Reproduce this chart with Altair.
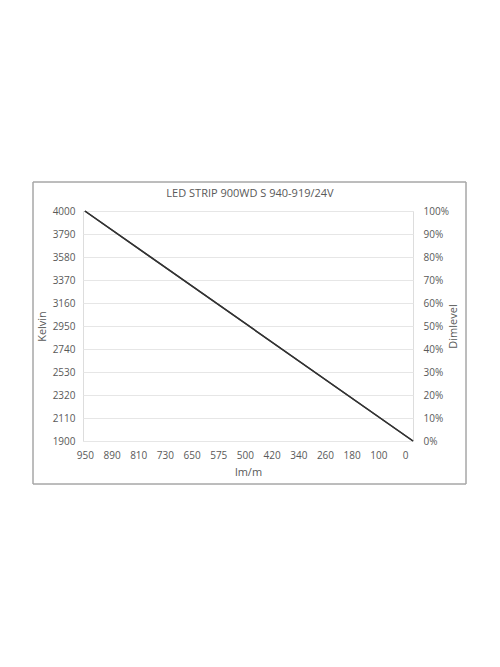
import altair as alt
import pandas as pd

# x-axis category labels (lm/m), evenly spaced
lm_labels = ["950", "890", "810", "730", "650", "575", "500", "420", "340", "260", "180", "100", "0"]
# line endpoints: position along the lm/m axis (label index), Kelvin, Dimlevel
line_pos = [0, 12.3]
line_kelvin = [4000, 1900]
line_dim = [1.0, 0.0]
kelvin_ticks = [1900, 2110, 2320, 2530, 2740, 2950, 3160, 3370, 3580, 3790, 4000]
dim_ticks = [0, 0.1, 0.2, 0.3, 0.4, 0.5, 0.6, 0.7, 0.8, 0.9, 1.0]
title_text = "LED STRIP 900WD S 940-919/24V"

df = pd.DataFrame({"pos": line_pos, "kelvin": line_kelvin, "dim": line_dim})

FONT = "Open Sans"
GREY = "#595959"

label_map = "[" + ",".join(f"'{l}'" for l in lm_labels) + "]"

x_enc = alt.X(
    "pos:Q",
    scale=alt.Scale(domain=[-0.07, 12.3], nice=False, zero=False),
    axis=alt.Axis(
        values=list(range(len(lm_labels))),
        labelExpr=f"{label_map}[round(datum.value)]",
        title="lm/m",
        titleFont=FONT, titleFontSize=11, titleFontWeight="normal", titleColor=GREY,
        titlePadding=6,
        labelFont=FONT, labelFontSize=10, labelColor=GREY, labelPadding=9,
        domain=False, ticks=False, grid=False,
    ),
)

left = alt.Chart(df).mark_line(color="#333333", strokeWidth=1.5).encode(
    x=x_enc,
    y=alt.Y(
        "kelvin:Q",
        scale=alt.Scale(domain=[1900, 4000], nice=False, zero=False),
        axis=alt.Axis(
            values=kelvin_ticks, format="d", title="Kelvin",
            titleFont=FONT, titleFontSize=11, titleFontWeight="normal", titleColor=GREY,
            titlePadding=5,
            labelFont=FONT, labelFontSize=10, labelColor=GREY, labelPadding=8,
            domain=False, ticks=False, grid=True, gridColor="#e6e6e6", gridWidth=1,
        ),
    ),
)

right = alt.Chart(df).mark_line(color="#333333", strokeWidth=1.5).encode(
    x=x_enc,
    y=alt.Y(
        "dim:Q",
        scale=alt.Scale(domain=[0, 1], nice=False),
        axis=alt.Axis(
            orient="right", values=dim_ticks, format=".0%", title="Dimlevel",
            titleAngle=270, titleBaseline="bottom",
            titleFont=FONT, titleFontSize=11, titleFontWeight="normal", titleColor=GREY,
            titlePadding=10,
            labelFont=FONT, labelFontSize=10, labelColor=GREY, labelPadding=10,
            domain=False, ticks=False, grid=False,
        ),
    ),
)

frame = alt.Chart(df).mark_rect(
    fill=None, stroke="#a6a6a6", strokeWidth=1, clip=False
).encode(
    x=alt.value(-50), x2=alt.value(383), y=alt.value(-29), y2=alt.value(273)
)

title = alt.Chart(pd.DataFrame({"t": [title_text]})).mark_text(
    font=FONT, fontSize=11, color=GREY, clip=False
).encode(text="t:N", x=alt.value(167), y=alt.value(-17))

chart = (
    alt.layer(frame, left, right, title)
    .resolve_scale(y="independent")
    .properties(
        width=330,
        height=230,
        autosize=alt.AutoSizeParams(type="none"),
        padding={"left": 75, "top": 203, "right": 79, "bottom": 200},
    )
    .configure_view(stroke=None)
    .configure(background="white")
)

chart.save("out.html", embed_options={"renderer": "svg", "actions": False})
